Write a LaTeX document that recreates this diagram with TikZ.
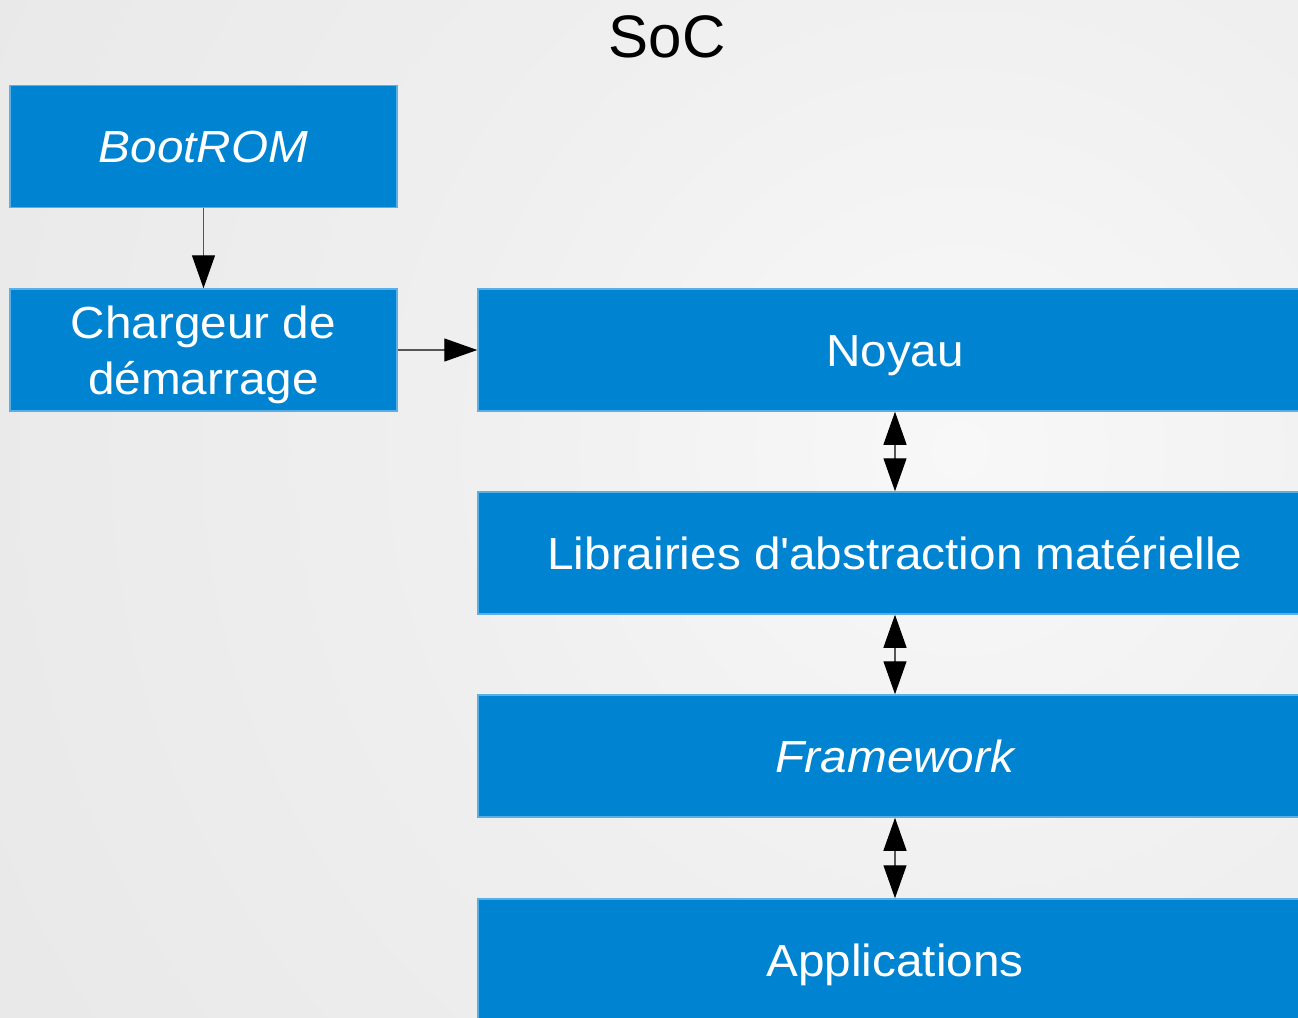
\documentclass[tikz,border=0pt]{standalone}
\usepackage{fontspec}
\setmainfont[FakeStretch=1.06]{Liberation Sans}
\newfontfamily\socfont{Liberation Sans}
\usetikzlibrary{arrows.meta}
\definecolor{boxblue}{HTML}{0083D1}
\definecolor{boxedge}{HTML}{5AB0E6}
\definecolor{bga}{HTML}{F8F8F8}
\definecolor{bgb}{HTML}{EFEFEF}
\definecolor{bgc}{HTML}{E9E9E9}
\definecolor{bgd}{HTML}{E6E6E6}
\definecolor{bge}{HTML}{E1E1E1}
\definecolor{bgf}{HTML}{E0E0E0}
\definecolor{linegray}{HTML}{555555}
\pgfdeclareradialshading{bgshade}{\pgfpointorigin}{color(0bp)=(bga); color(11bp)=(bgb); color(22.5bp)=(bgc); color(32bp)=(bgd); color(45bp)=(bge); color(50bp)=(bgf)}
\tikzset{bigtri/.tip={Triangle[length=33pt,width=23pt,color=black]}}
\begin{document}
\begin{tikzpicture}[x=1pt,y=-1pt,
  blk/.style={draw=boxedge, line width=1.5pt, fill=boxblue, text=white, inner sep=0pt,
    font=\fontsize{45}{56}\selectfont, align=center, minimum height=122pt,
    text depth=0pt},
  oneline/.style={text height=32pt},
  leftblk/.style={blk, minimum width=387pt},
  rightblk/.style={blk, oneline, minimum width=834pt},
  conn/.style={draw=linegray, line width=1.2pt}
]
\useasboundingbox (0,0) rectangle (1298,1017);
\begin{scope}
  \clip (0,0) rectangle (1298,1017);
  \fill[bgf] (0,0) rectangle (1298,1017);
  \shade[shading=bgshade] (960,450) circle (1200pt);
\end{scope}
\node[font=\socfont\fontsize{60}{70}\selectfont] (soc) at (667,37) {SoC};
\node[leftblk, oneline] (boot) at (203.5,146.5) {\itshape BootROM};
\node[leftblk] (charg) at (203.5,350) {Chargeur de\\démarrage};
\node[rightblk] (noyau) at (895,350) {Noyau};
\node[rightblk] (lib) at (895,553) {Librairies d\textquotesingle abstraction matérielle};
\node[rightblk] (fw) at (895,756) {\itshape Framework};
\node[rightblk] (app) at (895,960) {Applications};
\draw[conn, -bigtri] (boot.south) -- (charg.north);
\draw[conn, -bigtri] (charg.east) -- (noyau.west);
\draw[conn, bigtri-bigtri] (noyau.south) -- (lib.north);
\draw[conn, bigtri-bigtri] (lib.south) -- (fw.north);
\draw[conn, bigtri-bigtri] (fw.south) -- (app.north);
\end{tikzpicture}
\end{document}
